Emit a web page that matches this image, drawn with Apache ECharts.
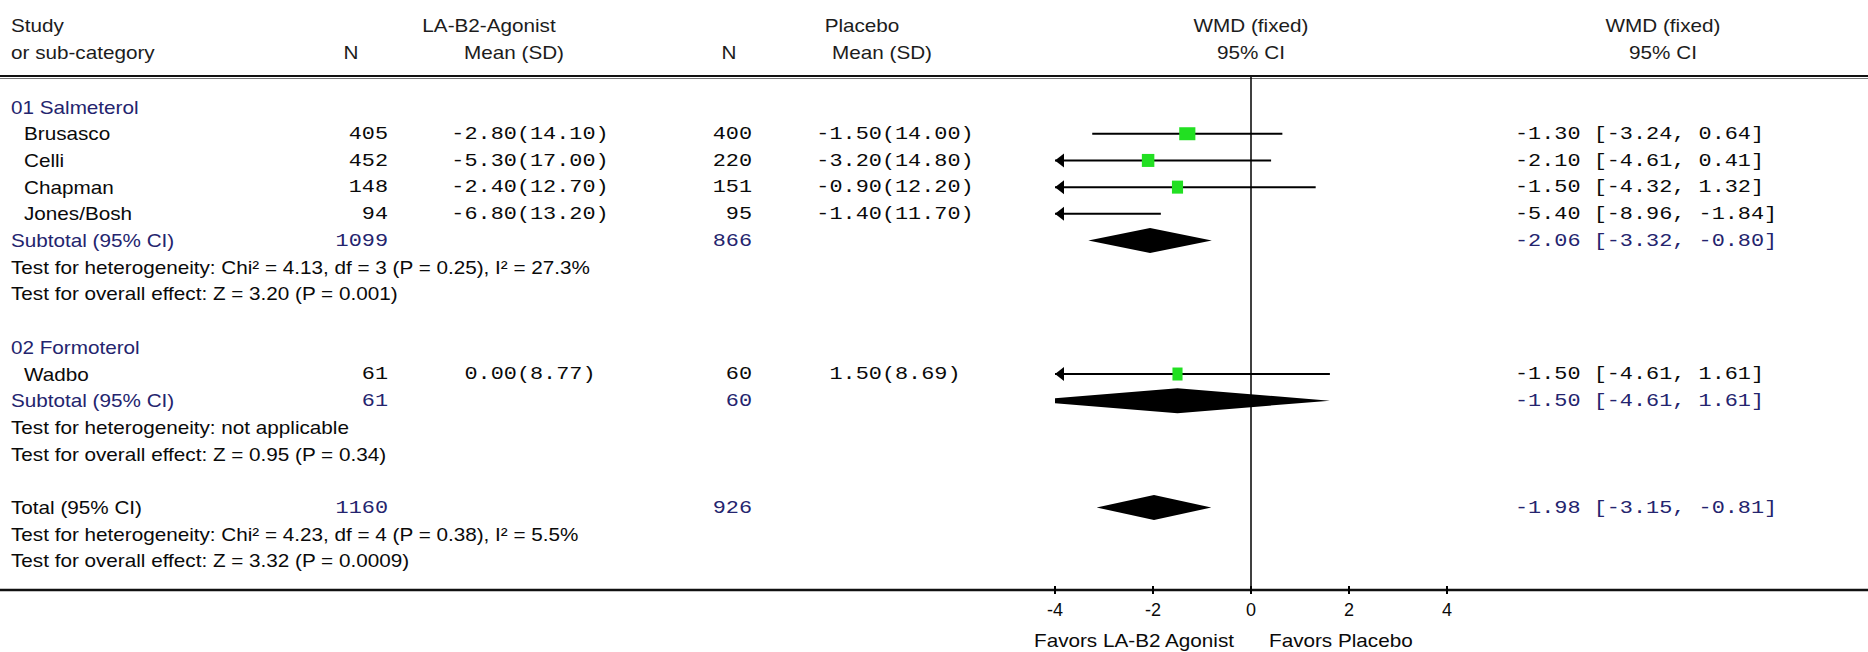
<!DOCTYPE html>
<html>
<head>
<meta charset="utf-8">
<title>WMD forest plot</title>
<script src="https://cdn.jsdelivr.net/npm/echarts@6/dist/echarts.min.js"></script>
<style>
  html, body { margin: 0; padding: 0; background: #fff; }
  #chart { width: 1868px; height: 652px; }
</style>
</head>
<body>
<div id="chart"></div>
<script>
// values
const groupNames = ['01 Salmeterol', '02 Formoterol'];
const studyNames = ['Brusasco', 'Celli', 'Chapman', 'Jones/Bosh', 'Wadbo'];
const studyGroup = [0, 0, 0, 0, 1];
const agonistN = [405, 452, 148, 94, 61];
const agonistMean = [-2.80, -5.30, -2.40, -6.80, 0.00];
const agonistSD = [14.10, 17.00, 12.70, 13.20, 8.77];
const placeboN = [400, 220, 151, 95, 60];
const placeboMean = [-1.50, -3.20, -0.90, -1.40, 1.50];
const placeboSD = [14.00, 14.80, 12.20, 11.70, 8.69];
const studyWMD = [-1.30, -2.10, -1.50, -5.40, -1.50];
const studyLow = [-3.24, -4.61, -4.32, -8.96, -4.61];
const studyHigh = [0.64, 0.41, 1.32, -1.84, 1.61];

const subtotalAgonistN = [1099, 61];
const subtotalPlaceboN = [866, 60];
const subtotalWMD = [-2.06, -1.50];
const subtotalLow = [-3.32, -4.61];
const subtotalHigh = [-0.80, 1.61];
const subtotalHet = [
  'Test for heterogeneity: Chi\u00b2 = 4.13, df = 3 (P = 0.25), I\u00b2 = 27.3%',
  'Test for heterogeneity: not applicable'
];
const subtotalEffect = [
  'Test for overall effect: Z = 3.20 (P = 0.001)',
  'Test for overall effect: Z = 0.95 (P = 0.34)'
];

const totalAgonistN = [1160];
const totalPlaceboN = [926];
const totalWMD = [-1.98];
const totalLow = [-3.15];
const totalHigh = [-0.81];
const totalHet = ['Test for heterogeneity: Chi\u00b2 = 4.23, df = 4 (P = 0.38), I\u00b2 = 5.5%'];
const totalEffect = ['Test for overall effect: Z = 3.32 (P = 0.0009)'];

const xTicks = [-4, -2, 0, 2, 4];
const favourLabels = ['Favors LA-B2 Agonist', 'Favors Placebo'];

// styling
const SANS = '18px "Liberation Sans", Arial, sans-serif';
const MONO = '19px "Liberation Mono", "Courier New", monospace';
const SANS_SX = 1.15;
const MONO_SX = 1.15;
const INK = '#0a0a0a';
const HEAD = '#1c1c1c';
const NAVY = '#24246e';
const GREEN = '#22e022';

// build the table rows in reading order
const rows = [];
groupNames.forEach((g, gi) => {
  rows.push({ kind: 'group', label: g });
  studyNames.forEach((s, i) => { if (studyGroup[i] === gi) rows.push({ kind: 'study', i: i }); });
  rows.push({ kind: 'subtotal', i: gi });
  rows.push({ kind: 'note', label: subtotalHet[gi] });
  rows.push({ kind: 'note', label: subtotalEffect[gi] });
  rows.push({ kind: 'blank' });
});
rows.push({ kind: 'total', i: 0 });
rows.push({ kind: 'note', label: totalHet[0] });
rows.push({ kind: 'note', label: totalEffect[0] });

const studyData = [];
const poolData = [];
rows.forEach((r, idx) => {
  if (r.kind === 'study') studyData.push([idx, studyWMD[r.i], studyLow[r.i], studyHigh[r.i]]);
  if (r.kind === 'subtotal') poolData.push([idx, subtotalWMD[r.i], subtotalLow[r.i], subtotalHigh[r.i]]);
  if (r.kind === 'total') poolData.push([idx, totalWMD[0], totalLow[0], totalHigh[0]]);
});

const xMin = xTicks[0];
const xMax = xTicks[xTicks.length - 1];
const yMin = -1.125;             // header rule sits a bit above the first row
const yMax = rows.length + 0.09; // bottom rule / axis

function renderStudy(params, api) {
  const row = api.value(0), est = api.value(1), lo = api.value(2), hi = api.value(3);
  const a = api.coord([Math.max(lo, xMin), row]);
  const b = api.coord([Math.min(hi, xMax), row]);
  const kids = [{
    type: 'line',
    shape: { x1: a[0], y1: a[1], x2: b[0], y2: b[1] },
    style: { stroke: '#000', lineWidth: 2 }
  }];
  if (lo < xMin) {
    kids.push({ type: 'polygon', shape: { points: [[a[0], a[1]], [a[0] + 9, a[1] - 7], [a[0] + 9, a[1] + 7]] }, style: { fill: '#000' } });
  }
  if (hi > xMax) {
    kids.push({ type: 'polygon', shape: { points: [[b[0], b[1]], [b[0] - 9, b[1] - 7], [b[0] - 9, b[1] + 7]] }, style: { fill: '#000' } });
  }
  if (est >= xMin && est <= xMax) {
    // box width follows inverse-variance weight
    const w = Math.pow(3.92 / (hi - lo), 2);
    const side = 16 * Math.sqrt(w);
    const c = api.coord([est, row]);
    kids.push({ type: 'rect', shape: { x: c[0] - side / 2, y: c[1] - 6.5, width: side, height: 13 }, style: { fill: GREEN } });
  }
  return { type: 'group', children: kids };
}

function renderDiamond(params, api) {
  const row = api.value(0);
  const l = api.coord([api.value(2), row]);
  const m = api.coord([api.value(1), row]);
  const r = api.coord([api.value(3), row]);
  const h = 12.5;
  return {
    type: 'polygon',
    shape: { points: [[l[0], l[1]], [m[0], m[1] - h], [r[0], r[1]], [m[0], m[1] + h]] },
    style: { fill: '#000' }
  };
}

const chart = echarts.init(document.getElementById('chart'), null, { renderer: 'svg' });

chart.setOption({
  animation: false,
  backgroundColor: '#fff',
  grid: { left: 1055, top: 77, width: 392, height: 513, outerBoundsMode: 'none', containLabel: false },
  xAxis: {
    type: 'value', min: xMin, max: xMax, interval: xTicks[1] - xTicks[0],
    position: 'bottom',
    splitLine: { show: false },
    axisLine: { show: false, onZero: false },
    axisTick: { show: true, length: 4, lineStyle: { color: '#000', width: 2 } },
    axisLabel: { color: INK, fontFamily: '"Liberation Sans", Arial, sans-serif', fontSize: 18, margin: 11 }
  },
  yAxis: {
    type: 'value', inverse: true, min: yMin, max: yMax, show: false,
    splitLine: { show: false }
  },
  series: [
    {
      type: 'custom', name: 'studies', renderItem: renderStudy, data: studyData,
      encode: { x: [1, 2, 3], y: 0 }, clip: false, z: 3,
      markLine: {
        silent: true, symbol: 'none', label: { show: false },
        lineStyle: { color: '#000', width: 1.5, type: 'solid' },
        data: [{ xAxis: 0 }]
      }
    },
    {
      type: 'custom', name: 'pooled', renderItem: renderDiamond, data: poolData,
      encode: { x: [1, 2, 3], y: 0 }, clip: true, z: 4
    }
  ]
});

// table text, placed against the same row scale
function rowY(r) { return chart.convertToPixel({ yAxisIndex: 0 }, r); }
function txt(x, y, text, opt) {
  opt = opt || {};
  return {
    type: 'text', x: x, y: y, silent: true,
    scaleX: opt.mono ? MONO_SX : SANS_SX,
    style: {
      text: text, font: opt.mono ? MONO : SANS, fill: opt.color || INK,
      textAlign: opt.align || 'left', textVerticalAlign: 'middle'
    }
  };
}
function fmtMean(m, sd) { return m.toFixed(2) + '(' + sd.toFixed(2) + ')'; }
function fmtCI(e, lo, hi) { return e.toFixed(2) + ' [' + lo.toFixed(2) + ', ' + hi.toFixed(2) + ']'; }

const col = { label: 11, indent: 24, n1: 388, mean1: 530, n2: 752, mean2: 895, wmd: 1251, ci: 1515, ciHead: 1663 };
const g = [];

// header
const h1 = rowY(-3.05), h2 = rowY(-2.05);
g.push(txt(col.label, h1, 'Study', { color: HEAD }));
g.push(txt(col.label, h2, 'or sub-category', { color: HEAD }));
g.push(txt(489, h1, 'LA-B2-Agonist', { align: 'center', color: HEAD }));
g.push(txt(351, h2, 'N', { align: 'center', color: HEAD }));
g.push(txt(514, h2, 'Mean (SD)', { align: 'center', color: HEAD }));
g.push(txt(862, h1, 'Placebo', { align: 'center', color: HEAD }));
g.push(txt(729, h2, 'N', { align: 'center', color: HEAD }));
g.push(txt(882, h2, 'Mean (SD)', { align: 'center', color: HEAD }));
g.push(txt(col.wmd, h1, 'WMD (fixed)', { align: 'center', color: HEAD }));
g.push(txt(col.wmd, h2, '95% CI', { align: 'center', color: HEAD }));
g.push(txt(col.ciHead, h1, 'WMD (fixed)', { align: 'center', color: HEAD }));
g.push(txt(col.ciHead, h2, '95% CI', { align: 'center', color: HEAD }));

rows.forEach((r, idx) => {
  const y = rowY(idx);
  if (r.kind === 'group') {
    g.push(txt(col.label, y, r.label, { color: NAVY }));
  } else if (r.kind === 'note') {
    g.push(txt(col.label, y, r.label));
  } else if (r.kind === 'study') {
    const i = r.i;
    g.push(txt(col.indent, y, studyNames[i]));
    g.push(txt(col.n1, y, String(agonistN[i]), { mono: true, align: 'right' }));
    g.push(txt(col.mean1, y, fmtMean(agonistMean[i], agonistSD[i]), { mono: true, align: 'center' }));
    g.push(txt(col.n2, y, String(placeboN[i]), { mono: true, align: 'right' }));
    g.push(txt(col.mean2, y, fmtMean(placeboMean[i], placeboSD[i]), { mono: true, align: 'center' }));
    g.push(txt(col.ci, y, fmtCI(studyWMD[i], studyLow[i], studyHigh[i]), { mono: true }));
  } else if (r.kind === 'subtotal') {
    const i = r.i;
    g.push(txt(col.label, y, 'Subtotal (95% CI)', { color: NAVY }));
    g.push(txt(col.n1, y, String(subtotalAgonistN[i]), { mono: true, align: 'right', color: NAVY }));
    g.push(txt(col.n2, y, String(subtotalPlaceboN[i]), { mono: true, align: 'right', color: NAVY }));
    g.push(txt(col.ci, y, fmtCI(subtotalWMD[i], subtotalLow[i], subtotalHigh[i]), { mono: true, color: NAVY }));
  } else if (r.kind === 'total') {
    g.push(txt(col.label, y, 'Total (95% CI)'));
    g.push(txt(col.n1, y, String(totalAgonistN[0]), { mono: true, align: 'right', color: NAVY }));
    g.push(txt(col.n2, y, String(totalPlaceboN[0]), { mono: true, align: 'right', color: NAVY }));
    g.push(txt(col.ci, y, fmtCI(totalWMD[0], totalLow[0], totalHigh[0]), { mono: true, color: NAVY }));
  }
});

// full-width rules: header and axis
const topY = rowY(yMin), botY = rowY(yMax);
g.push({ type: 'line', silent: true, shape: { x1: 0, y1: topY - 1, x2: 1868, y2: topY - 1 }, style: { stroke: '#111', lineWidth: 2 } });
g.push({ type: 'line', silent: true, shape: { x1: 0, y1: topY + 1.5, x2: 1868, y2: topY + 1.5 }, style: { stroke: '#777', lineWidth: 1 } });
g.push({ type: 'line', silent: true, shape: { x1: 0, y1: botY, x2: 1868, y2: botY }, style: { stroke: '#111', lineWidth: 2.5 } });

// short tick stubs above the rule, so the ticks cross it as in the figure
xTicks.forEach((t) => {
  const x = chart.convertToPixel({ xAxisIndex: 0 }, t);
  g.push({ type: 'line', silent: true, shape: { x1: x, y1: botY - 4, x2: x, y2: botY }, style: { stroke: '#000', lineWidth: 2 } });
});

// favours labels either side of zero
const zeroX = chart.convertToPixel({ xAxisIndex: 0 }, 0);
g.push(txt(zeroX - 17, botY + 51, favourLabels[0], { align: 'right' }));
g.push(txt(zeroX + 18, botY + 51, favourLabels[1]));

chart.setOption({ graphic: g });
</script>
</body>
</html>
